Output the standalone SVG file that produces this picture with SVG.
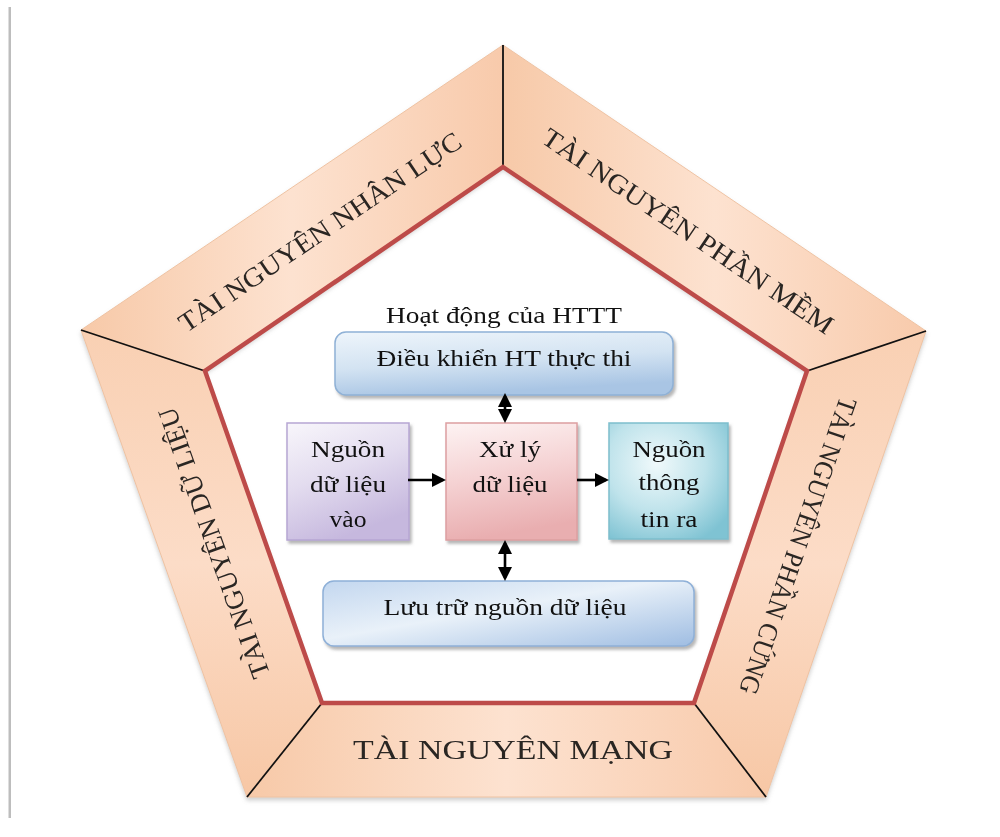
<svg xmlns="http://www.w3.org/2000/svg" width="1000" height="837" viewBox="0 0 1000 837">
  <style>
    .band { stroke: #efc3a3; stroke-width: 1; }
    .sep { stroke: #111; stroke-width: 1.8; fill: none; }
    .rim { fill: none; stroke: #bd4b49; stroke-width: 4.5; stroke-linejoin: miter; }
    .bandtxt { font-family: "Liberation Serif", "Times New Roman", Times, serif; font-size: 27px; fill: #2a2624; text-anchor: middle; }
    .txt { font-family: "Liberation Serif", "Times New Roman", Times, serif; font-size: 24px; fill: #111; text-anchor: middle; }
    .conn { stroke: #000; stroke-width: 2.6; fill: none; }
  </style>
  <defs>
    <linearGradient id="bandH" x1="0" y1="0" x2="1" y2="0">
      <stop offset="0" stop-color="#f7c9a8"/>
      <stop offset="0.5" stop-color="#fde2d0"/>
      <stop offset="1" stop-color="#f8caab"/>
    </linearGradient>
    <linearGradient id="bandV" x1="0" y1="0" x2="0" y2="1">
      <stop offset="0" stop-color="#f9d0b3"/>
      <stop offset="0.5" stop-color="#fcdcc7"/>
      <stop offset="1" stop-color="#f7c7a5"/>
    </linearGradient>
    <linearGradient id="blueBox" x1="0" y1="0" x2="0.3" y2="1">
      <stop offset="0" stop-color="#eef5fb"/>
      <stop offset="0.55" stop-color="#d3e3f2"/>
      <stop offset="1" stop-color="#a9c5e4"/>
    </linearGradient>
    <linearGradient id="blueBox2" x1="0" y1="0" x2="1" y2="1">
      <stop offset="0" stop-color="#c3d7ef"/>
      <stop offset="0.45" stop-color="#e9f1f9"/>
      <stop offset="1" stop-color="#9fbde2"/>
    </linearGradient>
    <linearGradient id="purpleBox" x1="0" y1="0" x2="0.4" y2="1">
      <stop offset="0" stop-color="#f8f6fb"/>
      <stop offset="0.5" stop-color="#e3dcef"/>
      <stop offset="1" stop-color="#c6b8de"/>
    </linearGradient>
    <linearGradient id="pinkBox" x1="0" y1="0" x2="0.2" y2="1">
      <stop offset="0" stop-color="#fdf3f3"/>
      <stop offset="0.5" stop-color="#f5d2d3"/>
      <stop offset="1" stop-color="#e9aeb0"/>
    </linearGradient>
    <radialGradient id="tealBox" cx="0.4" cy="0.35" r="0.75">
      <stop offset="0" stop-color="#f0f9fb"/>
      <stop offset="0.55" stop-color="#bfe3eb"/>
      <stop offset="1" stop-color="#7fc3d3"/>
    </radialGradient>
    <filter id="shadow" x="-10%" y="-10%" width="125%" height="130%">
      <feDropShadow dx="2" dy="3" stdDeviation="1.6" flood-color="#7a7a7a" flood-opacity="0.55"/>
    </filter>
    <filter id="bandShadow" x="-5%" y="-5%" width="110%" height="112%">
      <feDropShadow dx="0" dy="3" stdDeviation="2" flood-color="#8a8a8a" flood-opacity="0.4"/>
    </filter>
    <marker id="arrow" viewBox="0 0 10 10" refX="7.9" refY="5" markerUnits="userSpaceOnUse" markerWidth="14" markerHeight="14" orient="auto-start-reverse">
      <path d="M0,0 L10,5 L0,10 z" fill="#000"/>
    </marker>
  </defs>

  <rect width="1000" height="837" fill="#fff"/>
  <!-- page edge rule -->
  <rect x="8.5" y="7" width="2.5" height="811" fill="#bdbdbd"/>

  <!-- outer resource bands -->
  <g filter="url(#bandShadow)">
    <g id="band-nhan-luc">
      <polygon class="band" points="81,330 503,45 503,167 205,371" fill="url(#bandH)"/>
      <text class="bandtxt" transform="translate(320,232) rotate(-34.03)" y="9" textLength="335" lengthAdjust="spacingAndGlyphs">TÀI NGUYÊN NHÂN LỰC</text>
    </g>
    <g id="band-phan-mem">
      <polygon class="band" points="503,45 926,331 807,371 503,167" fill="url(#bandH)"/>
      <text class="bandtxt" transform="translate(688,231) rotate(34.06)" y="9" textLength="345" lengthAdjust="spacingAndGlyphs">TÀI NGUYÊN PHẦN MỀM</text>
    </g>
    <g id="band-phan-cung">
      <polygon class="band" points="926,331 766,797 694,703 807,371" fill="url(#bandV)"/>
      <text class="bandtxt" transform="translate(798,546) rotate(108.95)" y="9" textLength="312" lengthAdjust="spacingAndGlyphs">TÀI NGUYÊN PHẦN CỨNG</text>
    </g>
    <g id="band-mang">
      <polygon class="band" points="766,797 247,797 322,703 694,703" fill="url(#bandH)"/>
      <text class="bandtxt" x="513" y="759" textLength="320" lengthAdjust="spacingAndGlyphs">TÀI NGUYÊN MẠNG</text>
    </g>
    <g id="band-du-lieu">
      <polygon class="band" points="247,797 81,330 205,371 322,703" fill="url(#bandV)"/>
      <text class="bandtxt" transform="translate(214,543) rotate(-109.57)" y="9" textLength="285" lengthAdjust="spacingAndGlyphs">TÀI NGUYÊN DỮ LIỆU</text>
    </g>
  </g>

  <!-- band dividers and inner rim -->
  <g id="dividers">
    <line class="sep" x1="503" y1="45" x2="503" y2="167"/>
    <line class="sep" x1="926" y1="331" x2="807" y2="371"/>
    <line class="sep" x1="766" y1="797" x2="694" y2="703"/>
    <line class="sep" x1="247" y1="797" x2="322" y2="703"/>
    <line class="sep" x1="81" y1="330" x2="205" y2="371"/>
    <polygon class="rim" points="503,167 807,371 694,703 322,703 205,371"/>
  </g>

  <!-- title of the inner process -->
  <g id="title">
    <text class="txt" x="504" y="323" font-size="25" textLength="236" lengthAdjust="spacingAndGlyphs">Hoạt động của HTTT</text>
  </g>

  <g id="dieu-khien">
    <rect x="335" y="332" width="338" height="63" rx="11" fill="url(#blueBox)" stroke="#8fb1d6" stroke-width="1.5" filter="url(#shadow)"/>
    <text class="txt" x="504" y="366" textLength="255" lengthAdjust="spacingAndGlyphs">Điều khiển HT thực thi</text>
  </g>

  <g id="nguon-vao">
    <rect x="287" y="423" width="122" height="117" fill="url(#purpleBox)" stroke="#b6a6d3" stroke-width="1.5" filter="url(#shadow)"/>
    <text class="txt" x="348" y="457" textLength="74" lengthAdjust="spacingAndGlyphs">Nguồn</text>
    <text class="txt" x="348" y="492" textLength="76" lengthAdjust="spacingAndGlyphs">dữ liệu</text>
    <text class="txt" x="348" y="527" textLength="37" lengthAdjust="spacingAndGlyphs">vào</text>
  </g>

  <g id="xu-ly">
    <rect x="446" y="423" width="131" height="117" fill="url(#pinkBox)" stroke="#dd9fa1" stroke-width="1.5" filter="url(#shadow)"/>
    <text class="txt" x="510" y="457" textLength="62" lengthAdjust="spacingAndGlyphs">Xử lý</text>
    <text class="txt" x="510" y="492" textLength="75" lengthAdjust="spacingAndGlyphs">dữ liệu</text>
  </g>

  <g id="nguon-ra">
    <rect x="609" y="423" width="119" height="116" fill="url(#tealBox)" stroke="#7dbecd" stroke-width="1.5" filter="url(#shadow)"/>
    <text class="txt" x="669" y="457" textLength="73" lengthAdjust="spacingAndGlyphs">Nguồn</text>
    <text class="txt" x="669" y="490" textLength="61" lengthAdjust="spacingAndGlyphs">thông</text>
    <text class="txt" x="669" y="527" textLength="57" lengthAdjust="spacingAndGlyphs">tin ra</text>
  </g>

  <g id="luu-tru">
    <rect x="323" y="581" width="371" height="65" rx="11" fill="url(#blueBox2)" stroke="#8eb0d8" stroke-width="1.5" filter="url(#shadow)"/>
    <text class="txt" x="505" y="615" textLength="243" lengthAdjust="spacingAndGlyphs">Lưu trữ nguồn dữ liệu</text>
  </g>

  <!-- connectors -->
  <g id="connectors">
    <line class="conn" x1="408" y1="480" x2="443" y2="480" marker-end="url(#arrow)"/>
    <line class="conn" x1="577" y1="480" x2="606" y2="480" marker-end="url(#arrow)"/>
    <line class="conn" x1="505" y1="396" x2="505" y2="420" marker-start="url(#arrow)" marker-end="url(#arrow)"/>
    <line class="conn" x1="505" y1="543" x2="505" y2="578" marker-start="url(#arrow)" marker-end="url(#arrow)"/>
  </g>
</svg>
